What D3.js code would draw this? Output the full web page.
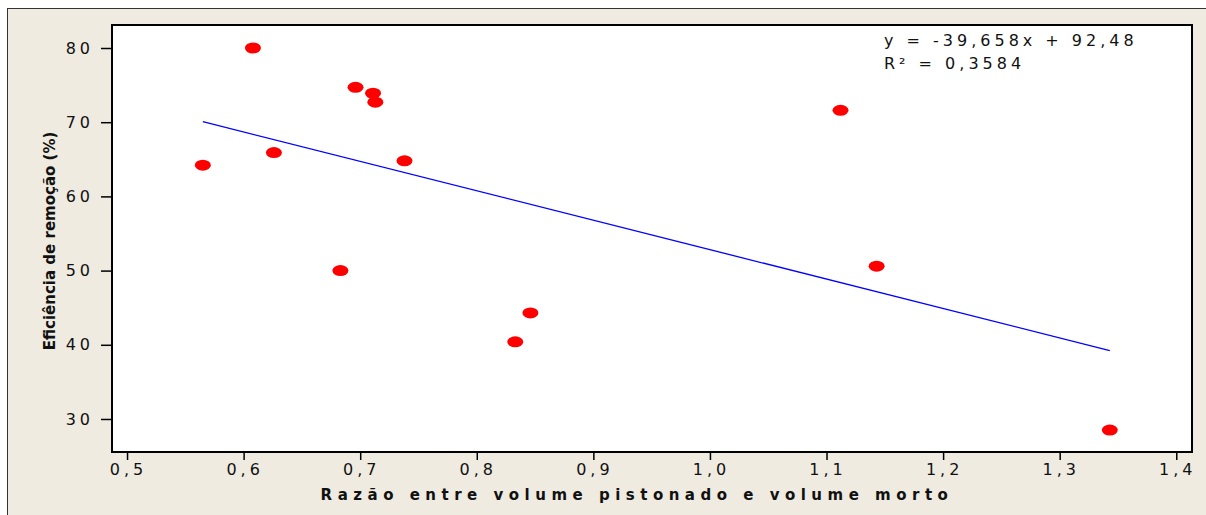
<!DOCTYPE html>
<html>
<head>
<meta charset="utf-8">
<script src="https://cdn.jsdelivr.net/npm/d3@7"></script>
<style>
	body { margin: 0; background: #fff; }
	text { font-family: "DejaVu Sans", Verdana, sans-serif; fill: #111; }
</style>
</head>
<body>
<svg id="chart" width="1206" height="515"></svg>
<script>
// razao entre volume pistonado e volume morto (x) vs eficiencia de remocao (y)
var razao = [0.565, 0.608, 0.626, 0.683, 0.696, 0.711, 0.713, 0.738, 0.833, 0.846, 1.112, 1.143, 1.343];
var eficiencia = [64.2, 80.0, 65.9, 50.0, 74.7, 73.9, 72.7, 64.8, 40.4, 44.3, 71.6, 50.6, 28.5];
var xTicks = [0.5, 0.6, 0.7, 0.8, 0.9, 1.0, 1.1, 1.2, 1.3, 1.4];
var yTicks = [30, 40, 50, 60, 70, 80];
var slope = -39.658, intercept = 92.48;
var eqLines = ["y = -39,658x + 92,48", "R² = 0,3584"];

var svg = d3.select("#chart");
var plot = {left: 112, top: 25, right: 1192, bottom: 452};

// beige outer frame
svg.append("rect").attr("x", 7.5).attr("y", 8.5).attr("width", 1206).attr("height", 515)
	.attr("fill", "#efebe1").attr("stroke", "#333").attr("stroke-width", 1);

var xScale = d3.scaleLinear().domain([0.4871, 1.4135]).range([plot.left, plot.right]);
var yScale = d3.scaleLinear().domain([25.55, 83.1]).range([plot.bottom, plot.top]);

svg.append("rect").attr("x", plot.left).attr("y", plot.top)
	.attr("width", plot.right - plot.left).attr("height", plot.bottom - plot.top)
	.attr("fill", "#fff").attr("stroke", "#000").attr("stroke-width", 2);

var fmt = function(d) { return d3.format(".1f")(d).replace(".", ","); };

var xAxis = svg.append("g").attr("transform", "translate(0," + (plot.bottom + 1) + ")")
	.call(d3.axisBottom(xScale).tickValues(xTicks).tickSize(7).tickPadding(4).tickFormat(fmt));
xAxis.select(".domain").remove();
xAxis.selectAll("line").attr("stroke", "#000").attr("stroke-width", 1.5);
xAxis.selectAll("text").attr("font-size", 16).attr("letter-spacing", "4px").attr("dx", "1px");

var yAxis = svg.append("g").attr("transform", "translate(" + (plot.left - 1) + ",0)")
	.call(d3.axisLeft(yScale).tickValues(yTicks).tickSize(10).tickPadding(7).tickFormat(d3.format("d")));
yAxis.select(".domain").remove();
yAxis.selectAll("line").attr("stroke", "#000").attr("stroke-width", 1.5);
yAxis.selectAll("text").attr("font-size", 16).attr("letter-spacing", "4px");
svg.selectAll(".tick text").style("fill", "#111").attr("font-family", "DejaVu Sans, sans-serif");

// trend line over the data range
var xExt = d3.extent(razao);
svg.append("line")
	.attr("x1", xScale(xExt[0])).attr("y1", yScale(slope * xExt[0] + intercept))
	.attr("x2", xScale(xExt[1])).attr("y2", yScale(slope * xExt[1] + intercept))
	.attr("stroke", "#0000ff").attr("stroke-width", 1.3);

svg.append("g").selectAll("ellipse").data(razao).enter().append("ellipse")
	.attr("cx", function(d) { return xScale(d); })
	.attr("cy", function(d, i) { return yScale(eficiencia[i]); })
	.attr("rx", 8).attr("ry", 5.5)
	.attr("fill", "#ff0000");

svg.append("g").selectAll("text").data(eqLines).enter().append("text")
	.attr("x", 884).attr("y", function(d, i) { return 46 + i * 23; })
	.attr("font-size", 16).attr("letter-spacing", "4px")
	.text(function(d) { return d; });

svg.append("text").attr("x", (plot.left + plot.right) / 2 - 15).attr("y", 500)
	.attr("text-anchor", "middle").attr("font-size", 15).attr("font-weight", "bold")
	.attr("letter-spacing", "5.5px")
	.text("Razão entre volume pistonado e volume morto");

svg.append("text").attr("transform", "translate(55,241) rotate(-90)")
	.attr("text-anchor", "middle").attr("font-size", 15).attr("font-weight", "bold")
	.attr("font-family", "Liberation Sans, Arial, sans-serif")
	.text("Eficiência de remoção (%)");
</script>
</body>
</html>
